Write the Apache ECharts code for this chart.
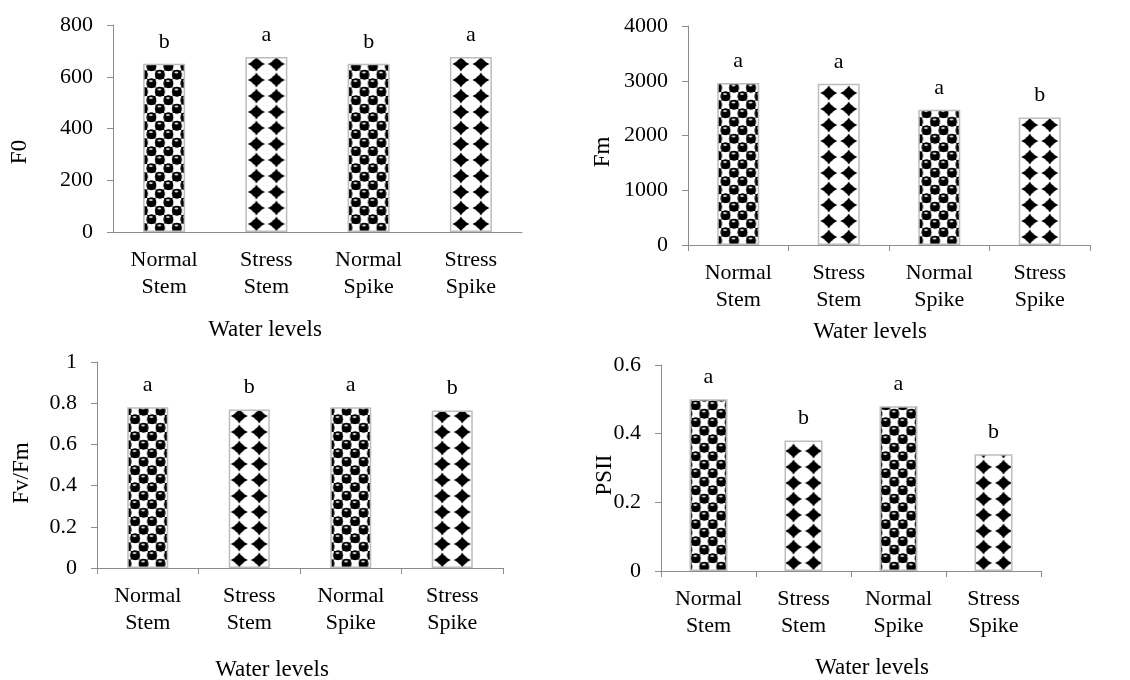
<!DOCTYPE html>
<html>
<head>
<meta charset="utf-8">
<script src="https://cdn.jsdelivr.net/npm/echarts@6/dist/echarts.min.js"></script>
<style>
html,body{margin:0;padding:0;background:#fff;}
#chart{width:1130px;height:680px;}
</style>
</head>
<body>
<div id="chart"></div>
<script>
// data
var categories = ['Normal\nStem', 'Stress\nStem', 'Normal\nSpike', 'Stress\nSpike'];
var treatments = ['normal', 'stress', 'normal', 'stress'];

var f0Values = [650, 676, 650, 676];
var f0Letters = ['b', 'a', 'b', 'a'];

var fmValues = [2960, 2945, 2470, 2330];
var fmLetters = ['a', 'a', 'a', 'b'];

var fvfmValues = [0.78, 0.77, 0.78, 0.765];
var fvfmLetters = ['a', 'b', 'a', 'b'];

var psiiValues = [0.5, 0.38, 0.48, 0.34];
var psiiLetters = ['a', 'b', 'a', 'b'];

var yTitles = ['F0', 'Fm', 'Fv/Fm', 'PSII'];
var yMax = [800, 4000, 1, 0.6];
var yStep = [200, 1000, 0.2, 0.2];
var xTitle = 'Water levels';

var FONT = '"Liberation Serif", "Times New Roman", serif';

// ball pattern (normal)
function ballTile(){
  var c = document.createElement('canvas');
  c.width = 17; c.height = 17;
  var g = c.getContext('2d');
  g.fillStyle = '#fff';
  g.fillRect(0, 0, 17, 17);
  var h = 8.5;
  var pts = [[h/2, h/2], [h*1.5, h*1.5], [h/2, h*2.5], [h*2.5, h/2], [-h/2, h*1.5], [h*1.5, -h/2]];
  for (var i = 0; i < pts.length; i++){
    var x = pts[i][0], y = pts[i][1];
    g.fillStyle = '#000';
    g.fillRect(x - 4.25, y - 4.25, 8.5, 8.5);
    g.beginPath();
    g.arc(x, y, 5, 0, Math.PI * 2);
    g.fill();
    g.fillStyle = 'rgba(255,255,255,0.85)';
    g.beginPath();
    g.ellipse(x - 0.5, y - 2.3, 1.9, 1.0, 0, 0, Math.PI * 2);
    g.fill();
  }
  return c;
}

// diamond pattern (stress)
function diamondTile(){
  var c = document.createElement('canvas');
  c.width = 20; c.height = 16;
  var g = c.getContext('2d');
  g.fillStyle = '#fff';
  g.fillRect(0, 0, 20, 16);
  g.fillStyle = '#000';
  var cx = 10, cy = 8;
  g.beginPath();
  g.moveTo(cx, cy - 7.5);
  g.quadraticCurveTo(cx + 2.5, cy - 2.5, cx + 8.5, cy);
  g.quadraticCurveTo(cx + 2.5, cy + 2.5, cx, cy + 7.5);
  g.quadraticCurveTo(cx - 2.5, cy + 2.5, cx - 8.5, cy);
  g.quadraticCurveTo(cx - 2.5, cy - 2.5, cx, cy - 7.5);
  g.fill();
  g.beginPath();
  g.arc(cx, cy, 4.8, 0, Math.PI * 2);
  g.fill();
  return c;
}

var tiles = {normal: ballTile(), stress: diamondTile()};

var grids = [
  {left: 113, top: 25, width: 409, height: 207},
  {left: 688, top: 26, width: 402, height: 219},
  {left: 97, top: 362, width: 406, height: 206},
  {left: 661, top: 365, width: 380, height: 206}
];
var barWidths = [42, 42, 41, 38];
var showXTicks = [false, true, true, true];
var allValues = [f0Values, fmValues, fvfmValues, psiiValues];
var allLetters = [f0Letters, fmLetters, fvfmLetters, psiiLetters];

function buildItems(k, offsets){
  var items = [];
  for (var i = 0; i < categories.length; i++){
    var pat = {image: tiles[treatments[i]], repeat: 'repeat'};
    if (offsets){ pat.x = offsets[i][0]; pat.y = offsets[i][1]; }
    items.push({value: allValues[k][i], itemStyle: {color: pat}});
  }
  return items;
}

var xAxes = [], yAxes = [], series = [];
for (var k = 0; k < 4; k++){
  xAxes.push({
    type: 'category', gridIndex: k, data: categories,
    axisLine: {lineStyle: {color: '#8c8c8c', width: 1}},
    axisTick: {show: showXTicks[k], length: 6, lineStyle: {color: '#8c8c8c'}},
    axisLabel: {interval: 0, margin: 15, lineHeight: 27, fontSize: 22, color: '#000', fontFamily: FONT}
  });
  yAxes.push({
    type: 'value', gridIndex: k, min: 0, max: yMax[k], interval: yStep[k],
    axisLine: {show: true, lineStyle: {color: '#8c8c8c', width: 1}},
    axisTick: {show: true, length: 6, lineStyle: {color: '#8c8c8c'}},
    splitLine: {show: false},
    axisLabel: {
      margin: 20, fontSize: 22, color: '#000', fontFamily: FONT,
      formatter: function(v){ return String(Math.round(v * 100) / 100); }
    }
  });
  (function(letters){
    series.push({
      type: 'bar', xAxisIndex: k, yAxisIndex: k,
      barWidth: barWidths[k],
      data: buildItems(k, null),
      itemStyle: {borderColor: '#bdbdbd', borderWidth: 1.5},
      label: {
        show: true, position: 'top', distance: 11,
        fontSize: 22, color: '#000', fontFamily: FONT,
        formatter: function(p){ return letters[p.dataIndex]; }
      }
    });
  })(allLetters[k]);
}

// axis titles
var yTitlePos = [[20, 152], [603, 152], [22, 473], [605, 475]];
var xTitlePos = [[265, 330], [870, 332], [272, 670], [872, 668]];
var graphics = [];
for (var t = 0; t < 4; t++){
  graphics.push({
    type: 'text', x: yTitlePos[t][0], y: yTitlePos[t][1], rotation: Math.PI / 2,
    style: {text: yTitles[t], font: '23px ' + FONT, fill: '#000', align: 'center', verticalAlign: 'middle'}
  });
  graphics.push({
    type: 'text', x: xTitlePos[t][0], y: xTitlePos[t][1],
    style: {text: xTitle, font: '23px ' + FONT, fill: '#000', align: 'center', verticalAlign: 'middle'}
  });
}

var chart = echarts.init(document.getElementById('chart'));
chart.setOption({
  animation: false,
  backgroundColor: '#fff',
  grid: grids,
  xAxis: xAxes,
  yAxis: yAxes,
  series: series,
  graphic: graphics
});

// line the texture up with each bar's left edge and base
var upd = [];
for (var k2 = 0; k2 < 4; k2++){
  var offs = [];
  for (var j = 0; j < categories.length; j++){
    var p = chart.convertToPixel({xAxisIndex: k2, yAxisIndex: k2}, [j, 0]);
    var w = treatments[j] === 'stress' ? 20 : 17;
    offs.push([p[0] - w, p[1]]);
  }
  upd.push({data: buildItems(k2, offs)});
}
chart.setOption({series: upd});
</script>
</body>
</html>
